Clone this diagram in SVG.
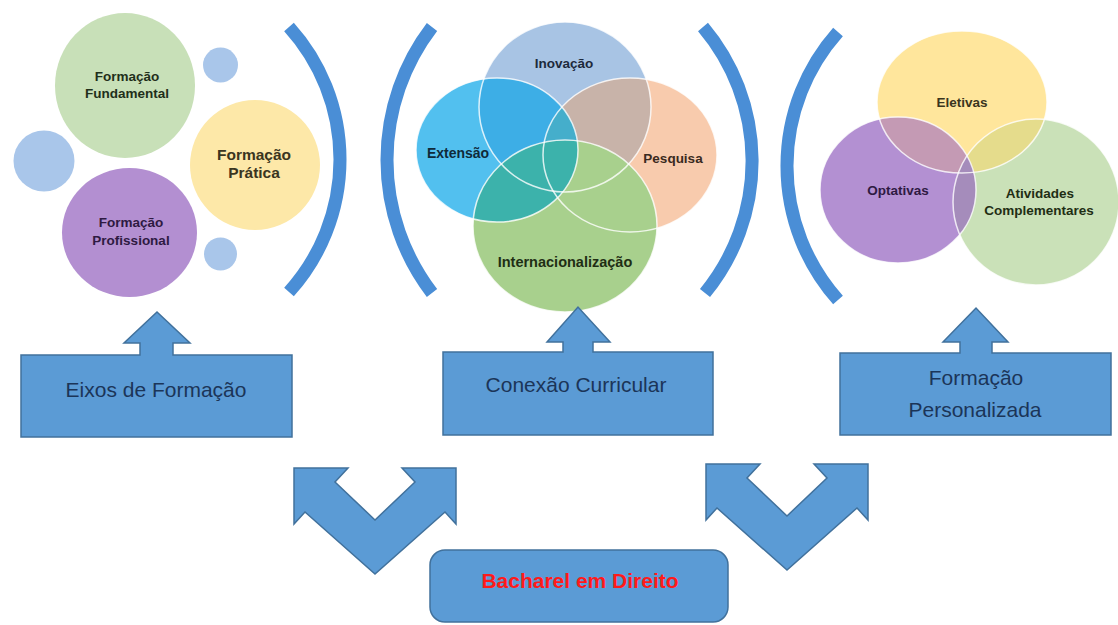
<svg xmlns="http://www.w3.org/2000/svg" width="1118" height="625" viewBox="0 0 1118 625">
<style>
.lbl{font-family:"Liberation Sans",Arial,sans-serif;font-weight:bold;text-anchor:middle;}
.box{fill:#5b9bd5;stroke:#41719c;stroke-width:1.5;}
.btx{font-family:"Liberation Sans",Arial,sans-serif;font-size:21px;fill:#1b3558;text-anchor:middle;}
.brk{fill:none;stroke:#4a8ed6;stroke-width:13;stroke-linecap:butt;}
.edge{fill:none;stroke:#ffffff;stroke-width:1.5;stroke-opacity:0.8;}
</style>
<defs>
<clipPath id="cInov"><ellipse cx="565" cy="107" rx="86" ry="85"/></clipPath>
<clipPath id="cPesq"><ellipse cx="630" cy="155" rx="87" ry="77"/></clipPath>
<clipPath id="cExt"><ellipse cx="497" cy="150" rx="81" ry="72"/></clipPath>
<clipPath id="cElet"><ellipse cx="962" cy="102" rx="85" ry="71"/></clipPath>
<clipPath id="cCompl"><ellipse cx="1036" cy="202" rx="83" ry="83"/></clipPath>
</defs>
<rect width="1118" height="625" fill="#ffffff"/>

<!-- Brackets -->
<g id="brackets">
<path class="brk" d="M289 27 A197.6 197.6 0 0 1 289 292"/>
<path class="brk" d="M432 27 A219 219 0 0 0 432 293"/>
<path class="brk" d="M703 27 A208 208 0 0 1 705 293"/>
<path class="brk" d="M838 32 A201.5 201.5 0 0 0 838 300"/>
</g>

<!-- Left cluster -->
<g id="eixos-cluster">
<circle cx="220.5" cy="65" r="17.5" fill="#a9c6ea"/>
<circle cx="44" cy="161" r="30.5" fill="#a9c6ea"/>
<circle cx="220.5" cy="254" r="16.5" fill="#a9c6ea"/>
<g id="formacao-fundamental">
<ellipse cx="125" cy="85.5" rx="70" ry="72.5" fill="#c8e0b8"/>
<text class="lbl" x="127" y="81" font-size="13.5" fill="#1f2f1a">Formação</text>
<text class="lbl" x="127" y="98" font-size="13.5" fill="#1f2f1a">Fundamental</text>
</g>
<g id="formacao-pratica">
<ellipse cx="255" cy="165" rx="65" ry="65" fill="#fde8a8"/>
<text class="lbl" x="254" y="160" font-size="15.5" fill="#3a3520">Formação</text>
<text class="lbl" x="254" y="178" font-size="15.5" fill="#3a3520">Prática</text>
</g>
<g id="formacao-profissional">
<ellipse cx="129.5" cy="232.5" rx="67.5" ry="64.5" fill="#b38fd1"/>
<text class="lbl" x="131" y="227" font-size="13.5" fill="#2e1a42">Formação</text>
<text class="lbl" x="131" y="245" font-size="13.5" fill="#2e1a42">Profissional</text>
</g>
</g>

<!-- Middle cluster -->
<g id="conexao-cluster">
<g id="inovacao">
<ellipse cx="565" cy="107" rx="86" ry="85" fill="#a8c4e4"/>
</g>
<g id="pesquisa">
<ellipse cx="630" cy="155" rx="87" ry="77" fill="#f8cbad"/>
<ellipse cx="565" cy="107" rx="86" ry="85" fill="#c8b3a9" clip-path="url(#cPesq)"/>
</g>
<g id="extensao">
<ellipse cx="497" cy="150" rx="81" ry="72" fill="#52c0ef"/>
<ellipse cx="565" cy="107" rx="86" ry="85" fill="#3daee6" clip-path="url(#cExt)"/>
<ellipse cx="630" cy="155" rx="87" ry="77" fill="#45aecb" clip-path="url(#cExt)"/>
</g>
<g id="internacionalizacao">
<ellipse cx="565" cy="226" rx="92" ry="86" fill="#a8d08d"/>
<ellipse cx="565" cy="226" rx="92" ry="86" fill="#3cb2ab" clip-path="url(#cExt)"/>
</g>
<ellipse class="edge" cx="565" cy="107" rx="86" ry="85"/>
<ellipse class="edge" cx="630" cy="155" rx="87" ry="77"/>
<ellipse class="edge" cx="497" cy="150" rx="81" ry="72"/>
<ellipse class="edge" cx="565" cy="226" rx="92" ry="86"/>
<text class="lbl" x="564" y="68" font-size="13.5" fill="#1d2a3c">Inovação</text>
<text class="lbl" x="458" y="158" font-size="14" fill="#0f2a3a">Extensão</text>
<text class="lbl" x="673" y="163" font-size="13.5" fill="#3a2a20">Pesquisa</text>
<text class="lbl" x="565" y="267" font-size="14.5" fill="#1f2e14">Internacionalização</text>
</g>

<!-- Right cluster -->
<g id="personalizada-cluster">
<g id="atividades-complementares">
<ellipse cx="1036" cy="202" rx="83" ry="83" fill="#cae1b8"/>
</g>
<g id="eletivas">
<ellipse cx="962" cy="102" rx="85" ry="71" fill="#ffe69c"/>
<ellipse cx="962" cy="102" rx="85" ry="71" fill="#e5dc8c" clip-path="url(#cCompl)"/>
</g>
<g id="optativas">
<ellipse cx="898" cy="190" rx="78" ry="73" fill="#b390d2"/>
<ellipse cx="898" cy="190" rx="78" ry="73" fill="#c49ab4" clip-path="url(#cElet)"/>
<ellipse cx="898" cy="190" rx="78" ry="73" fill="#a58cbb" clip-path="url(#cCompl)"/>
</g>
<ellipse class="edge" cx="1036" cy="202" rx="83" ry="83"/>
<ellipse class="edge" cx="962" cy="102" rx="85" ry="71"/>
<ellipse class="edge" cx="898" cy="190" rx="78" ry="73"/>
<text class="lbl" x="962" y="107" font-size="13.5" fill="#3a3520">Eletivas</text>
<text class="lbl" x="898" y="195" font-size="13.5" fill="#2e1a42">Optativas</text>
<text class="lbl" x="1040" y="198" font-size="13.5" fill="#1f2e14">Atividades</text>
<text class="lbl" x="1039" y="215" font-size="13.5" fill="#1f2e14">Complementares</text>
</g>

<!-- Boxes with up arrows -->
<g id="eixos-de-formacao">
<path class="box" d="M21 355 H140 V343 H124 L157 312 L190 343 H173 V355 H292 V437 H21 Z"/>
<text class="btx" x="156" y="397">Eixos de Formação</text>
</g>
<g id="conexao-curricular">
<path class="box" d="M443 352 H563 V342 H547 L578 307 L610 342 H593 V352 H713 V435 H443 Z"/>
<text class="btx" x="576" y="392">Conexão Curricular</text>
</g>
<g id="formacao-personalizada">
<path class="box" d="M840 353 H960 V342 H943 L976 308 L1008 342 H992 V353 H1111 V435 H840 Z"/>
<text class="btx" x="976" y="385">Formação</text>
<text class="btx" x="975" y="417">Personalizada</text>
</g>
<g id="bacharel-em-direito">
<rect class="box" x="430" y="550" width="298" height="72" rx="15" ry="15"/>
<text class="lbl" x="580" y="588" font-size="21" fill="#ff1a1a">Bacharel em Direito</text>
</g>

<!-- Connectors -->
<g id="connectors">
<polygon class="box" transform="translate(375 468)" points="-81,0 -27,0 -40,14 0,52 40,14 27,0 81,0 81,56 70,44 0,106 -70,44 -81,56"/>
<polygon class="box" transform="translate(787 464)" points="-81,0 -27,0 -40,14 0,52 40,14 27,0 81,0 81,56 70,44 0,106 -70,44 -81,56"/>
</g>
</svg>
